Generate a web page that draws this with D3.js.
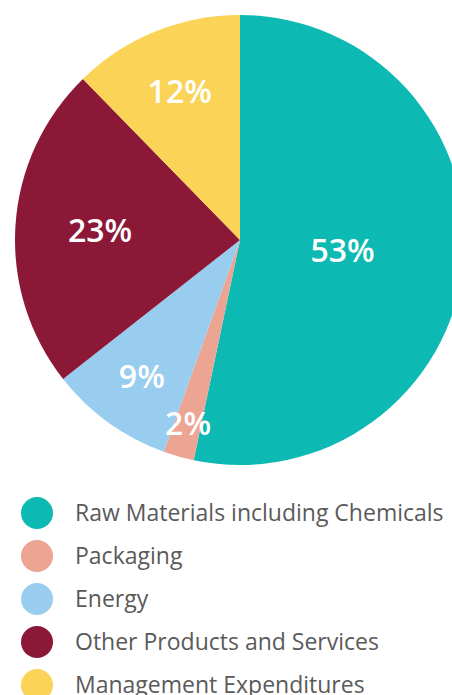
<!DOCTYPE html>
<html>
<head>
<meta charset="utf-8">
<script src="https://cdn.jsdelivr.net/npm/d3@7"></script>
<style>
  html, body { margin: 0; padding: 0; background: #fff; }
  svg { display: block; }
</style>
</head>
<body>
<div id="chart"></div>
<script>
var categories = ["Raw Materials including Chemicals", "Packaging", "Energy", "Other Products and Services", "Management Expenditures"];
var shares = [53.3, 2.2, 8.9, 23.3, 12.3];
var colors = ["#0cb9b3", "#eca493", "#99cdf0", "#8c1838", "#fbd357"];

var width = 452, height = 695;
var cx = 240, cy = 240, radius = 225;

var svg = d3.select("#chart").append("svg")
    .attr("width", width)
    .attr("height", height);

var data = categories.map(function(c, i) {
    return { name: c, value: shares[i], color: colors[i] };
});

var pie = d3.pie()
    .sort(null)
    .value(function(d) { return d.value; });

var arc = d3.arc().innerRadius(0).outerRadius(radius);

// smaller slices push their label out towards the rim
var labelR = d3.scaleSqrt().domain([2, 53]).range([0.85, 0.46]);

var g = svg.append("g").attr("transform", "translate(" + cx + "," + cy + ")");
var arcs = pie(data);

g.selectAll("path.slice")
    .data(arcs)
    .enter().append("path")
    .attr("class", "slice")
    .attr("d", arc)
    .attr("fill", function(d) { return d.data.color; });

g.selectAll("text.pct")
    .data(arcs)
    .enter().append("text")
    .attr("class", "pct")
    .attr("transform", function(d) {
        var r = radius * labelR(d.data.value);
        var a = (d.startAngle + d.endAngle) / 2;
        return "translate(" + (Math.sin(a) * r) + "," + (-Math.cos(a) * r) + ")";
    })
    .attr("text-anchor", "middle")
    .attr("dy", "0.36em")
    .attr("fill", "#fff")
    .style("font-family", "'Open Sans', 'Noto Sans', sans-serif")
    .style("font-weight", 600)
    .style("font-size", "32px")
    .text(function(d) { return Math.round(d.data.value) + "%"; });

var legendY = d3.scalePoint()
    .domain(categories)
    .range([513, 685]);

var legend = svg.append("g").selectAll("g.item")
    .data(data)
    .enter().append("g")
    .attr("class", "item")
    .attr("transform", function(d) { return "translate(0," + legendY(d.name) + ")"; });

legend.append("circle")
    .attr("cx", 37)
    .attr("r", 16)
    .attr("fill", function(d) { return d.color; });

legend.append("text")
    .attr("x", 75)
    .attr("dy", "0.35em")
    .attr("fill", "#5a5a5a")
    .style("font-family", "'Open Sans', 'Noto Sans', sans-serif")
    .style("font-size", "23px")
    .text(function(d) { return d.name; });
</script>
</body>
</html>
